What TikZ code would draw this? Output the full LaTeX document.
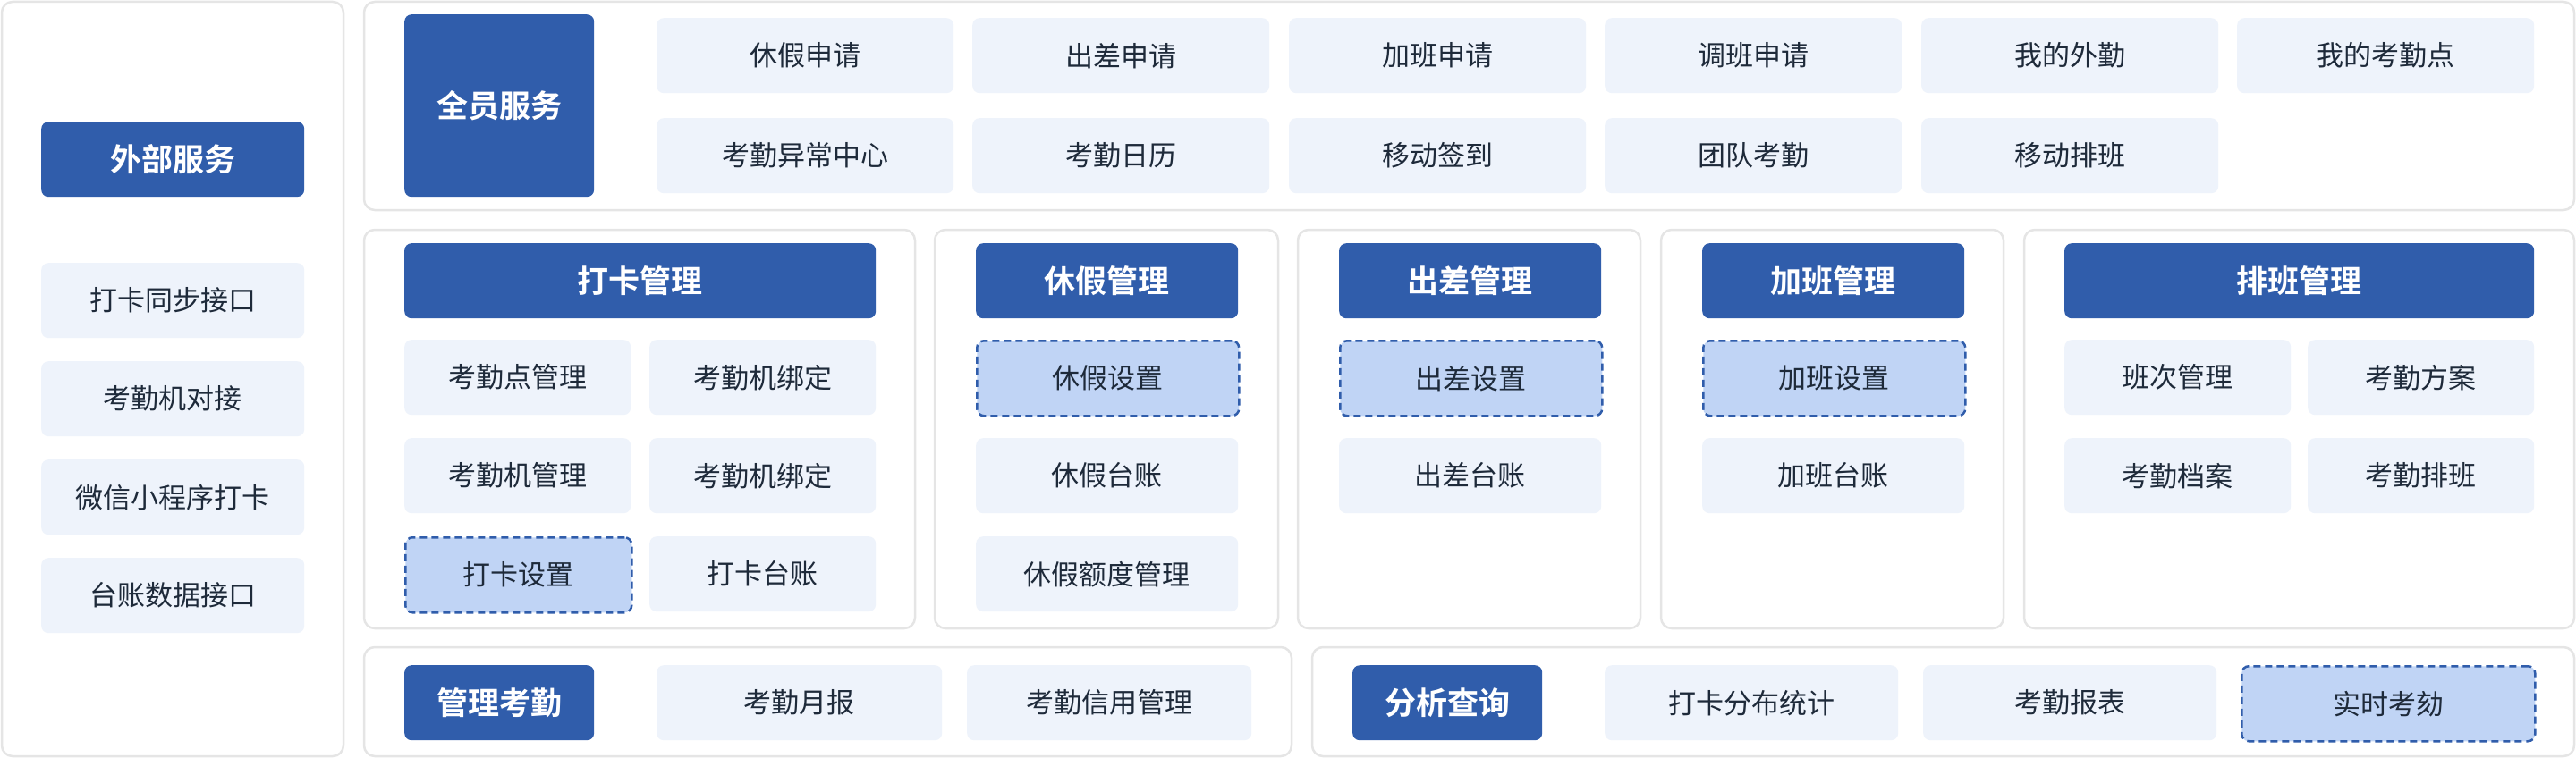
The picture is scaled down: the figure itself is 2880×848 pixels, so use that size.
\documentclass[tikz,border=0pt]{standalone}
\usepackage{fontspec}
\setmainfont{Noto Sans CJK SC}[BoldFont={Noto Sans CJK SC Bold}]
\usepackage{tikz}

\definecolor{headblue}{RGB}{48,93,171}
\definecolor{itemfill}{RGB}{238,243,251}
\definecolor{dashfill}{RGB}{192,212,245}
\definecolor{panelline}{RGB}{229,229,229}
\definecolor{itemtext}{RGB}{30,42,58}

\tikzset{
  panel/.style={draw=panelline, line width=2.5pt, fill=white, rounded corners=12pt},
  head/.style={anchor=north west, inner sep=0pt, fill=headblue, rounded corners=8pt, text=white,
    font=\fontsize{35}{40}\selectfont\bfseries, minimum height=84pt},
  item/.style={anchor=north west, inner sep=0pt, fill=itemfill, rounded corners=8pt, text=itemtext,
    font=\fontsize{31}{36}\selectfont, minimum height=84pt},
  itemdash/.style={item, fill=dashfill, draw=headblue, line width=2.5pt, dash pattern={on 8pt off 5pt}},
}

\begin{document}
\begin{tikzpicture}[x=1pt,y=1pt,yscale=-1,xscale=1]
\useasboundingbox (0,0) rectangle (2880,848);

%Shape: Panels
\draw [panel] (2,2) rectangle (384,846);
\draw [panel] (407,2) rectangle (2878,235);
\draw [panel] (407,257) rectangle (1023,703);
\draw [panel] (1045,257) rectangle (1429,703);
\draw [panel] (1451,257) rectangle (1834,703);
\draw [panel] (1857,257) rectangle (2240,703);
\draw [panel] (2263,257) rectangle (2878,703);
\draw [panel] (407,724) rectangle (1444,846);
\draw [panel] (1467,724) rectangle (2878,846);

% External services
\node [head, minimum width=294pt] (ext) at (46,136) {外部服务};
\node [item, minimum width=294pt] (extSync) at (46,294) {打卡同步接口};
\node [item, minimum width=294pt] (extMachine) at (46,404) {考勤机对接};
\node [item, minimum width=294pt] (extWechat) at (46,514) {微信小程序打卡};
\node [item, minimum width=294pt] (extLedger) at (46,624) {台账数据接口};

% All staff services
\node [head, minimum width=212pt, minimum height=204pt] (all) at (452,16) {全员服务};
\node [item, minimum width=332pt] (allLeave) at (734,20) {休假申请};
\node [item, minimum width=332pt] (allTrip) at (1087,20) {出差申请};
\node [item, minimum width=332pt] (allOvertime) at (1441,20) {加班申请};
\node [item, minimum width=332pt] (allSwap) at (1794,20) {调班申请};
\node [item, minimum width=332pt] (allField) at (2148,20) {我的外勤};
\node [item, minimum width=332pt] (allPoint) at (2501,20) {我的考勤点};
\node [item, minimum width=332pt] (allAbnormal) at (734,132) {考勤异常中心};
\node [item, minimum width=332pt] (allCalendar) at (1087,132) {考勤日历};
\node [item, minimum width=332pt] (allSign) at (1441,132) {移动签到};
\node [item, minimum width=332pt] (allTeam) at (1794,132) {团队考勤};
\node [item, minimum width=332pt] (allShift) at (2148,132) {移动排班};

% Clock-in management
\node [head, minimum width=527pt] (clock) at (452,272) {打卡管理};
\node [item, minimum width=253pt] (clockPoint) at (452,380) {考勤点管理};
\node [item, minimum width=253pt] (clockBindA) at (726,380) {考勤机绑定};
\node [item, minimum width=253pt] (clockMachine) at (452,490) {考勤机管理};
\node [item, minimum width=253pt] (clockBindB) at (726,490) {考勤机绑定};
\node [itemdash, minimum width=253pt] (clockSet) at (452,600) {打卡设置};
\node [item, minimum width=253pt] (clockLedger) at (726,600) {打卡台账};

% Leave management
\node [head, minimum width=293pt] (leave) at (1091,272) {休假管理};
\node [itemdash, minimum width=293pt] (leaveSet) at (1091,380) {休假设置};
\node [item, minimum width=293pt] (leaveLedger) at (1091,490) {休假台账};
\node [item, minimum width=293pt] (leaveQuota) at (1091,600) {休假额度管理};

% Business trip management
\node [head, minimum width=293pt] (trip) at (1497,272) {出差管理};
\node [itemdash, minimum width=293pt] (tripSet) at (1497,380) {出差设置};
\node [item, minimum width=293pt] (tripLedger) at (1497,490) {出差台账};

% Overtime management
\node [head, minimum width=293pt] (over) at (1903,272) {加班管理};
\node [itemdash, minimum width=293pt] (overSet) at (1903,380) {加班设置};
\node [item, minimum width=293pt] (overLedger) at (1903,490) {加班台账};

% Shift management
\node [head, minimum width=525pt] (shift) at (2308,272) {排班管理};
\node [item, minimum width=253pt] (shiftClass) at (2308,380) {班次管理};
\node [item, minimum width=253pt] (shiftPlan) at (2580,380) {考勤方案};
\node [item, minimum width=253pt] (shiftFile) at (2308,490) {考勤档案};
\node [item, minimum width=253pt] (shiftArrange) at (2580,490) {考勤排班};

% Attendance management
\node [head, minimum width=212pt] (manage) at (452,744) {管理考勤};
\node [item, minimum width=319pt] (manageMonth) at (734,744) {考勤月报};
\node [item, minimum width=318pt] (manageCredit) at (1081,744) {考勤信用管理};

% Analysis
\node [head, minimum width=212pt] (query) at (1512,744) {分析查询};
\node [item, minimum width=328pt] (queryStat) at (1794,744) {打卡分布统计};
\node [item, minimum width=328pt] (queryReport) at (2150,744) {考勤报表};
\node [itemdash, minimum width=328pt] (queryLive) at (2505,744) {实时考劾};

\end{tikzpicture}
\end{document}
